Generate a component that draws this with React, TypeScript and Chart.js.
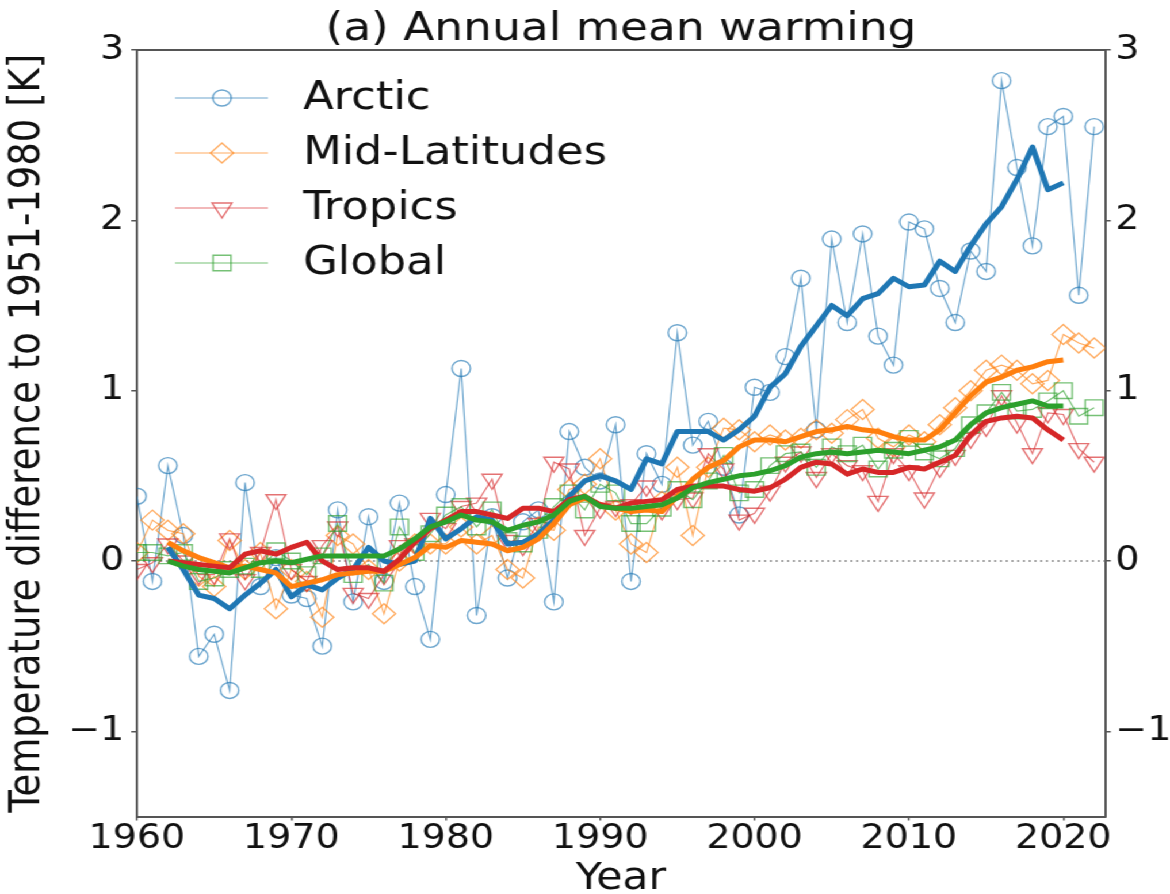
import React, { useEffect, useRef } from 'react';
import { Chart, registerables } from 'chart.js';
import { drawPoint } from 'chart.js/helpers';

Chart.register(...registerables);

// ---- data -------------------------------------------------------------
const YEARS = [
  1960, 1961, 1962, 1963, 1964, 1965, 1966, 1967, 1968, 1969,
  1970, 1971, 1972, 1973, 1974, 1975, 1976, 1977, 1978, 1979,
  1980, 1981, 1982, 1983, 1984, 1985, 1986, 1987, 1988, 1989,
  1990, 1991, 1992, 1993, 1994, 1995, 1996, 1997, 1998, 1999,
  2000, 2001, 2002, 2003, 2004, 2005, 2006, 2007, 2008, 2009,
  2010, 2011, 2012, 2013, 2014, 2015, 2016, 2017, 2018, 2019,
  2020, 2021, 2022,
];

// centred 5-year running means cover 1962-2020
const SMOOTH_YEARS = [
  1962, 1963, 1964, 1965, 1966, 1967, 1968, 1969,
  1970, 1971, 1972, 1973, 1974, 1975, 1976, 1977, 1978, 1979,
  1980, 1981, 1982, 1983, 1984, 1985, 1986, 1987, 1988, 1989,
  1990, 1991, 1992, 1993, 1994, 1995, 1996, 1997, 1998, 1999,
  2000, 2001, 2002, 2003, 2004, 2005, 2006, 2007, 2008, 2009,
  2010, 2011, 2012, 2013, 2014, 2015, 2016, 2017, 2018, 2019,
  2020,
];

const ARCTIC = [
  0.38, -0.12, 0.56, 0.15, -0.56, -0.43, -0.76, 0.46, -0.15, 0.02,
  -0.2, -0.22, -0.5, 0.3, -0.24, 0.26, -0.12, 0.34, -0.15, -0.46,
  0.39, 1.13, -0.32, 0.26, -0.1, 0.23, 0.3, -0.24, 0.76, 0.55,
  0.47, 0.8, -0.12, 0.63, 0.45, 1.34, 0.68, 0.82, 0.55, 0.27,
  1.02, 0.99, 1.2, 1.66, 0.77, 1.89, 1.4, 1.92, 1.32, 1.15,
  1.99, 1.95, 1.6, 1.4, 1.82, 1.7, 2.82, 2.31, 1.85, 2.55,
  2.61, 1.56, 2.55,
];

const MID_LATITUDES = [
  0.05, 0.24, 0.18, 0.16, -0.09, -0.15, 0.12, -0.05, 0.05, -0.28,
  -0.05, -0.12, -0.33, 0.15, 0.1, -0.05, -0.31, 0.0, 0.1, 0.1,
  0.1, 0.2, 0.1, 0.15, -0.05, -0.1, 0.2, 0.18, 0.42, 0.45,
  0.6, 0.3, 0.1, 0.05, 0.35, 0.55, 0.15, 0.55, 0.78, 0.77,
  0.7, 0.74, 0.71, 0.72, 0.77, 0.75, 0.83, 0.89, 0.72, 0.67,
  0.74, 0.7, 0.8, 0.9, 1.0, 1.12, 1.15, 1.12, 1.04, 1.06,
  1.33, 1.28, 1.25,
];

const TROPICS = [
  -0.05, -0.01, 0.1, 0.0, -0.08, -0.08, 0.13, -0.11, 0.05, 0.36,
  -0.05, -0.12, 0.09, 0.2, -0.19, -0.22, -0.08, 0.09, 0.1, 0.25,
  0.19, 0.32, 0.34, 0.48, 0.12, 0.09, 0.22, 0.58, 0.54, 0.15,
  0.31, 0.32, 0.33, 0.44, 0.3, 0.36, 0.37, 0.63, 0.54, 0.24,
  0.28, 0.41, 0.58, 0.64, 0.49, 0.63, 0.56, 0.53, 0.35, 0.63,
  0.53, 0.37, 0.55, 0.62, 0.72, 0.79, 0.97, 0.81, 0.63, 0.87,
  0.86, 0.66, 0.58,
];

const GLOBAL = [
  0.05, 0.05, 0.03, 0.05, -0.12, -0.1, -0.05, -0.03, -0.05, 0.06,
  0.0, -0.08, 0.03, 0.22, -0.08, -0.02, -0.13, 0.2, 0.05, 0.16,
  0.27, 0.32, 0.2, 0.3, 0.12, 0.1, 0.18, 0.32, 0.4, 0.3,
  0.45, 0.4, 0.22, 0.22, 0.31, 0.42, 0.36, 0.47, 0.62, 0.4,
  0.42, 0.56, 0.63, 0.64, 0.55, 0.67, 0.63, 0.68, 0.54, 0.65,
  0.72, 0.64, 0.6, 0.66, 0.8, 0.87, 0.99, 0.88, 0.89, 0.94,
  1.0, 0.85, 0.9,
];

const ARCTIC_5YR = [
  0.08, -0.05, -0.2, -0.22, -0.28, -0.2, -0.13, -0.05,
  -0.21, -0.14, -0.17, -0.1, -0.05, 0.08, 0.0, -0.02, 0.0, 0.25,
  0.13, 0.19, 0.26, 0.24, 0.1, 0.11, 0.16, 0.24, 0.38, 0.47,
  0.5, 0.47, 0.42, 0.6, 0.57, 0.76, 0.76, 0.76, 0.71, 0.77,
  0.85, 1.02, 1.1, 1.26, 1.38, 1.5, 1.44, 1.54, 1.57, 1.66,
  1.61, 1.62, 1.76, 1.7, 1.85, 1.98, 2.08, 2.24, 2.43, 2.18,
  2.22,
];

const MID_LATITUDES_5YR = [
  0.11, 0.06, 0.02, -0.01, -0.04, -0.03, -0.05, -0.07,
  -0.15, -0.13, -0.11, -0.08, -0.07, -0.06, -0.06, -0.02, 0.02, 0.09,
  0.08, 0.12, 0.11, 0.1, 0.06, 0.08, 0.13, 0.22, 0.33, 0.37,
  0.33, 0.31, 0.29, 0.3, 0.29, 0.38, 0.48, 0.55, 0.59, 0.67,
  0.71, 0.71, 0.7, 0.73, 0.76, 0.77, 0.79, 0.77, 0.76, 0.73,
  0.71, 0.71, 0.77, 0.87, 0.97, 1.05, 1.08, 1.12, 1.14, 1.17,
  1.18,
];

const TROPICS_5YR = [
  0.0, -0.01, -0.02, -0.03, -0.04, 0.04, 0.06, 0.04,
  0.08, 0.11, 0.0, -0.05, -0.04, -0.04, -0.06, 0.01, 0.11, 0.19,
  0.24, 0.29, 0.29, 0.27, 0.25, 0.31, 0.31, 0.29, 0.36, 0.38,
  0.33, 0.31, 0.34, 0.35, 0.36, 0.42, 0.44, 0.44, 0.44, 0.42,
  0.41, 0.43, 0.48, 0.55, 0.58, 0.57, 0.51, 0.54, 0.52, 0.52,
  0.55, 0.54, 0.58, 0.62, 0.74, 0.82, 0.84, 0.85, 0.84, 0.77,
  0.71,
];

const GLOBAL_5YR = [
  0.0, -0.03, -0.05, -0.06, -0.07, -0.04, -0.01, 0.0,
  -0.01, 0.01, 0.03, 0.03, 0.03, 0.03, 0.03, 0.07, 0.13, 0.2,
  0.23, 0.27, 0.24, 0.23, 0.18, 0.21, 0.23, 0.27, 0.35, 0.38,
  0.32, 0.31, 0.31, 0.32, 0.33, 0.37, 0.43, 0.46, 0.48, 0.5,
  0.51, 0.53, 0.56, 0.61, 0.63, 0.64, 0.63, 0.64, 0.65, 0.64,
  0.63, 0.65, 0.67, 0.71, 0.8, 0.87, 0.9, 0.92, 0.94, 0.91,
  0.91,
];

const X_TICKS = [1960, 1970, 1980, 1990, 2000, 2010, 2020];
const Y_TICKS = [-1, 0, 1, 2, 3];
const X_RANGE = [1960, 2022.7];
const Y_RANGE = [-1.5, 3];

const TITLE = '(a) Annual mean warming';
const X_TITLE = 'Year';
const Y_TITLE = 'Temperature difference to 1951-1980 [K]';

// ---- look -------------------------------------------------------------
// The figure is drawn narrow and widened horizontally, like the original export.
const PAGE_W = 1170;
const PAGE_H = 894;
const W = 1017;
const STRETCH = PAGE_W / W;
const sx = (px: number) => px / STRETCH;

const AXIS_LEFT = sx(137);
const AXIS_RIGHT = sx(1105);
const AXIS_TOP = 50;
const AXIS_BOTTOM = 816.5;

const FONT = '"DejaVu Sans", "Liberation Sans", sans-serif';
const TICK_SIZE = 33;
const TITLE_SIZE = 39.5;
const LEGEND_SIZE = 39;
const LABEL_SIZE = 37;
const TEXT = '#111';
const SPINE = '#555';

const BLUE = '#1f77b4';
const ORANGE = '#ff7f0e';
const RED = '#d62728';
const GREEN = '#2ca02c';

const rgba = (hex: string, a: number) => {
  const n = parseInt(hex.slice(1), 16);
  return `rgba(${(n >> 16) & 255},${(n >> 8) & 255},${n & 255},${a})`;
};

const toPoints = (xs: number[], ys: number[]) => xs.map((x, i) => ({ x, y: ys[i] }));

interface Region {
  label: string;
  color: string;
  values: number[];
  smooth: number[];
  pointStyle: string;
  radius: number;
  rotation: number;
}

const REGIONS: Region[] = [
  { label: 'Arctic', color: BLUE, values: ARCTIC, smooth: ARCTIC_5YR, pointStyle: 'circle', radius: 8, rotation: 0 },
  { label: 'Mid-Latitudes', color: ORANGE, values: MID_LATITUDES, smooth: MID_LATITUDES_5YR, pointStyle: 'rectRot', radius: 10, rotation: 0 },
  { label: 'Tropics', color: RED, values: TROPICS, smooth: TROPICS_5YR, pointStyle: 'triangle', radius: 10, rotation: 180 },
  { label: 'Global', color: GREEN, values: GLOBAL, smooth: GLOBAL_5YR, pointStyle: 'rect', radius: 11, rotation: 0 },
];

const THIN_ALPHA = 0.65;

function buildDatasets() {
  const thin = REGIONS.map((r, i) => ({
    label: r.label,
    data: toPoints(YEARS, r.values),
    borderColor: rgba(r.color, THIN_ALPHA),
    borderWidth: 1.2,
    pointStyle: r.pointStyle,
    pointRadius: r.radius,
    pointRotation: r.rotation,
    pointBorderColor: rgba(r.color, THIN_ALPHA),
    pointBackgroundColor: 'rgba(0,0,0,0)',
    pointBorderWidth: 1.4,
    tension: 0,
    order: 13 - i,
  }));
  const thick = REGIONS.map((r, i) => ({
    label: r.label + ' (5-yr mean)',
    data: toPoints(SMOOTH_YEARS, r.smooth),
    borderColor: r.color,
    borderWidth: 5,
    pointRadius: 0,
    borderJoinStyle: 'round' as const,
    borderCapStyle: 'butt' as const,
    tension: 0,
    order: 3 - i,
  }));
  const zero = {
    label: 'zero',
    data: [{ x: X_RANGE[0], y: 0 }, { x: X_RANGE[1], y: 0 }],
    borderColor: '#8a8a8a',
    borderWidth: 1.5,
    borderDash: [2, 3],
    pointRadius: 0,
    order: 20,
  };
  return [zero, ...thin, ...thick];
}

const minusLabel = (v: number | string) => {
  const n = Number(v);
  return (n < 0 ? '\u2212' : '') + Math.abs(n);
};

// title, axis titles, top spine and the legend
const decorations = {
  id: 'decorations',
  afterDraw(chart: any) {
    const { ctx, chartArea } = chart;
    const { left, right, top, bottom } = chartArea;
    const cx = (left + right) / 2;
    ctx.save();

    ctx.strokeStyle = SPINE;
    ctx.lineWidth = 2;
    ctx.beginPath();
    ctx.moveTo(left, top);
    ctx.lineTo(right, top);
    ctx.stroke();

    ctx.fillStyle = TEXT;
    ctx.textAlign = 'center';
    ctx.textBaseline = 'alphabetic';
    ctx.font = `${TITLE_SIZE}px ${FONT}`;
    ctx.fillText(TITLE, cx, 40);
    ctx.font = `${LABEL_SIZE}px ${FONT}`;
    ctx.fillText(X_TITLE, cx, 889);

    ctx.save();
    ctx.translate(sx(28), (top + bottom) / 2);
    ctx.rotate(-Math.PI / 2);
    ctx.textBaseline = 'middle';
    ctx.fillText(Y_TITLE, 0, 0);
    ctx.restore();

    const lineX0 = sx(175);
    const lineX1 = sx(268);
    const markX = sx(222);
    const textX = sx(303);
    const rows = [98, 153, 208, 263];
    ctx.font = `${LEGEND_SIZE}px ${FONT}`;
    REGIONS.forEach((r, i) => {
      const y = rows[i];
      const c = rgba(r.color, THIN_ALPHA);
      ctx.strokeStyle = c;
      ctx.lineWidth = 1.2;
      ctx.beginPath();
      ctx.moveTo(lineX0, y);
      ctx.lineTo(lineX1, y);
      ctx.stroke();
      ctx.fillStyle = 'rgba(255,255,255,0)';
      ctx.strokeStyle = c;
      ctx.lineWidth = 1.4;
      drawPoint(ctx, { pointStyle: r.pointStyle as any, radius: r.radius, rotation: r.rotation, borderWidth: 1.4 }, markX, y);
      ctx.fillStyle = TEXT;
      ctx.textAlign = 'left';
      ctx.textBaseline = 'middle';
      ctx.fillText(r.label, textX, y + 1);
    });
    ctx.restore();
  },
};

const tickFont = { family: FONT, size: TICK_SIZE };

function yAxis(position: 'left' | 'right', width: number, padding: number) {
  return {
    type: 'linear' as const,
    position,
    min: Y_RANGE[0],
    max: Y_RANGE[1],
    afterBuildTicks: (s: any) => {
      s.ticks = Y_TICKS.map((value) => ({ value }));
    },
    afterFit: (s: any) => {
      s.width = width;
    },
    grid: { drawOnChartArea: false, drawTicks: true, tickLength: 5, color: SPINE, lineWidth: 1.5 },
    border: { display: true, color: SPINE, width: 2 },
    ticks: { font: tickFont, color: TEXT, padding, callback: minusLabel },
  };
}

export default function App() {
  const canvasRef = useRef<HTMLCanvasElement>(null);

  useEffect(() => {
    if (!canvasRef.current) return;
    const chart = new Chart(canvasRef.current, {
      type: 'line',
      data: { datasets: buildDatasets() as any },
      plugins: [decorations],
      options: {
        animation: false,
        responsive: true,
        maintainAspectRatio: false,
        events: [],
        layout: { padding: { top: AXIS_TOP, left: 0, right: 0, bottom: 0 } },
        plugins: {
          legend: { display: false },
          tooltip: { enabled: false },
          title: { display: false },
        },
        scales: {
          x: {
            type: 'linear',
            position: 'bottom',
            min: X_RANGE[0],
            max: X_RANGE[1],
            afterBuildTicks: (s: any) => {
              s.ticks = X_TICKS.map((value) => ({ value }));
            },
            afterFit: (s: any) => {
              s.height = PAGE_H - AXIS_BOTTOM;
            },
            grid: { drawOnChartArea: false, drawTicks: true, tickLength: 4, color: SPINE, lineWidth: 1.5 },
            border: { display: true, color: SPINE, width: 2 },
            ticks: { font: tickFont, color: TEXT, padding: -1, maxRotation: 0, autoSkip: false, callback: (v: any) => String(v) },
          },
          y: yAxis('left', AXIS_LEFT, 6),
          y2: yAxis('right', W - AXIS_RIGHT, 4),
        } as any,
      },
    });
    return () => chart.destroy();
  }, []);

  return (
    <div
      style={{
        position: 'absolute',
        left: 0,
        top: 0,
        width: W,
        height: PAGE_H,
        background: '#fff',
        transform: `scaleX(${STRETCH})`,
        transformOrigin: '0 0',
      }}
    >
      <canvas ref={canvasRef} />
    </div>
  );
}
